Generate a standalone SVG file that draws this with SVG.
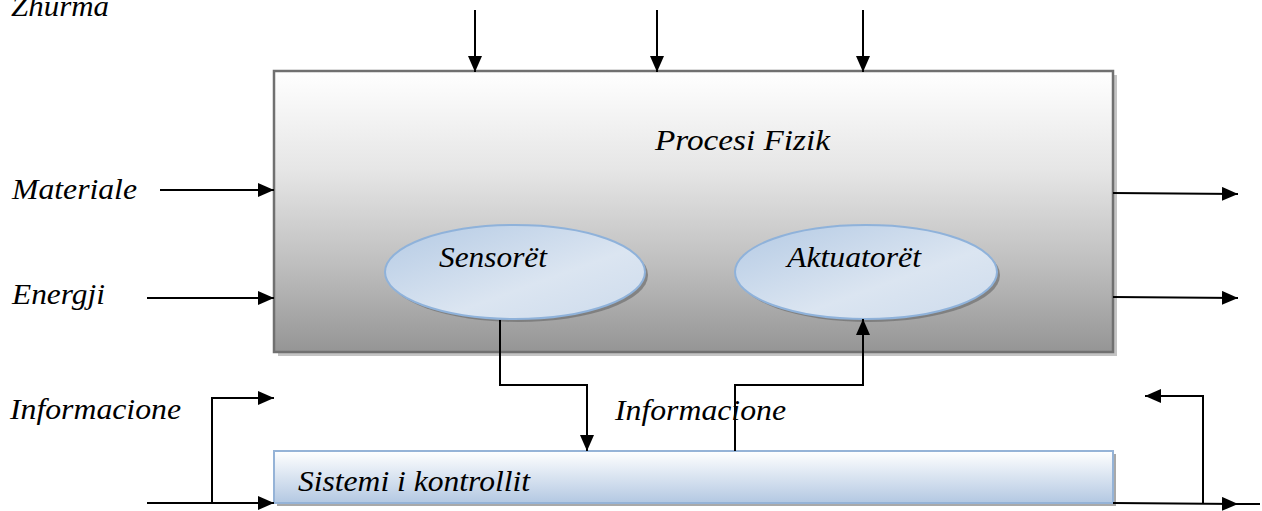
<svg xmlns="http://www.w3.org/2000/svg" width="1262" height="511" viewBox="0 0 1262 511">
  <style>
    .lbl { font-family: "Liberation Serif", "Times New Roman", serif; font-style: italic; font-size: 29px; fill: #000; }
    .wire { fill: none; stroke: #000; stroke-width: 2; }
  </style>
  <defs>
    <marker id="arrow" viewBox="0 0 16 14" refX="16" refY="7" markerWidth="16" markerHeight="14" markerUnits="userSpaceOnUse" orient="auto">
      <path d="M0,0 L16,7 L0,14 Z" fill="#000"/>
    </marker>
    <linearGradient id="procFill" x1="0" y1="0" x2="0" y2="1">
      <stop offset="0" stop-color="#ffffff"/>
      <stop offset="0.35" stop-color="#e6e6e6"/>
      <stop offset="0.7" stop-color="#bdbdbd"/>
      <stop offset="1" stop-color="#959595"/>
    </linearGradient>
    <linearGradient id="ovalFill" x1="0" y1="0" x2="1" y2="1">
      <stop offset="0" stop-color="#b4cae4"/>
      <stop offset="0.6" stop-color="#dbe5f1"/>
      <stop offset="1" stop-color="#cddbec"/>
    </linearGradient>
    <linearGradient id="ctrlFill" x1="0" y1="0" x2="0" y2="1">
      <stop offset="0" stop-color="#ffffff"/>
      <stop offset="1" stop-color="#b3c8e2"/>
    </linearGradient>
  </defs>

  <!-- free-standing labels -->
  <text class="lbl" x="11" y="16" textLength="98" lengthAdjust="spacingAndGlyphs">Zhurma</text>
  <text class="lbl" x="12" y="199" textLength="125" lengthAdjust="spacingAndGlyphs">Materiale</text>
  <text class="lbl" x="12" y="304" textLength="93" lengthAdjust="spacingAndGlyphs">Energji</text>
  <text class="lbl" x="10" y="419" textLength="171" lengthAdjust="spacingAndGlyphs">Informacione</text>
  <text class="lbl" x="615" y="420" textLength="171" lengthAdjust="spacingAndGlyphs">Informacione</text>

  <!-- physical process block -->
  <g id="procesi">
    <rect x="278" y="75" width="839" height="281" fill="#c4c4c4"/>
    <rect x="274" y="71" width="839" height="281" fill="url(#procFill)" stroke="#707070" stroke-width="2.5"/>
    <text class="lbl" x="655" y="150" textLength="175" lengthAdjust="spacingAndGlyphs">Procesi Fizik</text>
  </g>

  <g id="sensoret">
    <ellipse cx="518" cy="275" rx="130" ry="47" fill="#6f6f6f" opacity="0.7"/>
    <ellipse cx="515" cy="272" rx="130" ry="47" fill="url(#ovalFill)" stroke="#8fb2da" stroke-width="2"/>
    <text class="lbl" x="439" y="267" textLength="108" lengthAdjust="spacingAndGlyphs">Sensorët</text>
  </g>

  <g id="aktuatoret">
    <ellipse cx="869" cy="275" rx="131" ry="47" fill="#6f6f6f" opacity="0.7"/>
    <ellipse cx="866" cy="272" rx="131" ry="47" fill="url(#ovalFill)" stroke="#8fb2da" stroke-width="2"/>
    <text class="lbl" x="787" y="267" textLength="134" lengthAdjust="spacingAndGlyphs">Aktuatorët</text>
  </g>

  <!-- control system bar -->
  <g id="sistemi">
    <rect x="277" y="454" width="839" height="52" fill="#a9a9a9"/>
    <rect x="274" y="451" width="839" height="52" fill="url(#ctrlFill)" stroke="#95b3d7" stroke-width="2"/>
    <text class="lbl" x="298" y="491" textLength="232" lengthAdjust="spacingAndGlyphs">Sistemi i kontrollit</text>
  </g>

  <g id="connectors">
    <!-- disturbances from above -->
    <line class="wire" x1="475" y1="10" x2="475" y2="72" marker-end="url(#arrow)"/>
    <line class="wire" x1="657" y1="10" x2="657" y2="72" marker-end="url(#arrow)"/>
    <line class="wire" x1="863" y1="10" x2="863" y2="72" marker-end="url(#arrow)"/>
    <!-- inputs -->
    <line class="wire" x1="160" y1="190" x2="274" y2="190" marker-end="url(#arrow)"/>
    <line class="wire" x1="147" y1="298" x2="274" y2="298" marker-end="url(#arrow)"/>
    <!-- outputs -->
    <line class="wire" x1="1113" y1="193" x2="1238" y2="194" marker-end="url(#arrow)"/>
    <line class="wire" x1="1113" y1="297" x2="1238" y2="298" marker-end="url(#arrow)"/>
    <!-- sensor to controller -->
    <polyline class="wire" points="500,320 500,385 587,385 587,451" marker-end="url(#arrow)"/>
    <!-- controller to actuator -->
    <polyline class="wire" points="735,451 735,385 863,385 863,319" marker-end="url(#arrow)"/>
    <!-- information in -->
    <line class="wire" x1="147" y1="503" x2="274" y2="503" marker-end="url(#arrow)"/>
    <polyline class="wire" points="212,503 212,398 274,398" marker-end="url(#arrow)"/>
    <!-- information out -->
    <line class="wire" x1="1113" y1="503" x2="1238" y2="504" marker-end="url(#arrow)"/>
    <line class="wire" x1="1236" y1="504" x2="1260" y2="504"/>
    <polyline class="wire" points="1203,503 1203,396 1145,396" marker-end="url(#arrow)"/>
  </g>
</svg>
